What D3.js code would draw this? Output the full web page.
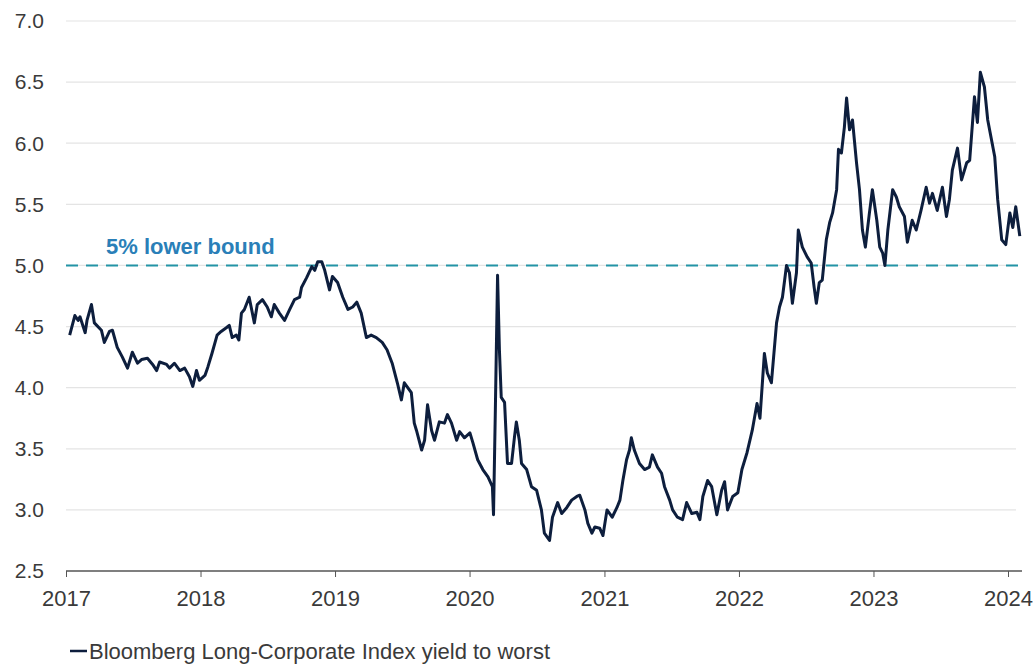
<!DOCTYPE html>
<html>
<head>
<meta charset="utf-8">
<script src="https://cdn.jsdelivr.net/npm/d3@7"></script>
<style>
    body { margin: 0; background: #ffffff; }
    svg text { font-family: "Liberation Sans", Arial, sans-serif; }
</style>
</head>
<body>
<div id="chart"></div>
<script>
// Bloomberg Long-Corporate Index yield to worst (%)
const dates = [
    "2017-01-11", "2017-01-25", "2017-02-03", "2017-02-08", "2017-02-22", "2017-02-27", "2017-03-11", "2017-03-19",
    "2017-04-07", "2017-04-15", "2017-04-29", "2017-05-07", "2017-05-20", "2017-06-03", "2017-06-17", "2017-06-30",
    "2017-07-14", "2017-07-25", "2017-08-10", "2017-08-24", "2017-09-04", "2017-09-12", "2017-10-01", "2017-10-09",
    "2017-10-22", "2017-11-06", "2017-11-19", "2017-12-02", "2017-12-11", "2017-12-21", "2017-12-29",
    "2018-01-13", "2018-01-21", "2018-02-01", "2018-02-15", "2018-02-26", "2018-03-12", "2018-03-20", "2018-03-28",
    "2018-04-08", "2018-04-15", "2018-04-22", "2018-04-30", "2018-05-13", "2018-05-27", "2018-06-04", "2018-06-18",
    "2018-07-01", "2018-07-12", "2018-07-20", "2018-08-03", "2018-08-17", "2018-08-31", "2018-09-13", "2018-09-27",
    "2018-10-02", "2018-10-16", "2018-10-30", "2018-11-07", "2018-11-15", "2018-11-26", "2018-12-04", "2018-12-17",
    "2018-12-25",
    "2019-01-08", "2019-01-22", "2019-02-05", "2019-02-18", "2019-03-01", "2019-03-13", "2019-03-27", "2019-04-09",
    "2019-04-23", "2019-05-09", "2019-05-22", "2019-06-05", "2019-06-19", "2019-06-30", "2019-07-08", "2019-07-27",
    "2019-08-04", "2019-08-10", "2019-08-24", "2019-09-01", "2019-09-09", "2019-09-20", "2019-09-28", "2019-10-11",
    "2019-10-25", "2019-11-02", "2019-11-13", "2019-11-27", "2019-12-05", "2019-12-18",
    "2020-01-02", "2020-01-10", "2020-01-23", "2020-02-06", "2020-02-20", "2020-03-03", "2020-03-06", "2020-03-11",
    "2020-03-17", "2020-03-22", "2020-03-27", "2020-04-05", "2020-04-13", "2020-04-24", "2020-05-02", "2020-05-07",
    "2020-05-15", "2020-05-21", "2020-06-04", "2020-06-17", "2020-07-01", "2020-07-14", "2020-07-22", "2020-08-05",
    "2020-08-13", "2020-08-27", "2020-09-07", "2020-09-21", "2020-10-04", "2020-10-18", "2020-10-26", "2020-11-09",
    "2020-11-17", "2020-11-28", "2020-12-06", "2020-12-19", "2020-12-28",
    "2021-01-08", "2021-01-22", "2021-02-04", "2021-02-12", "2021-02-20", "2021-03-02", "2021-03-10", "2021-03-15",
    "2021-03-23", "2021-04-06", "2021-04-20", "2021-05-03", "2021-05-11", "2021-05-25", "2021-06-05", "2021-06-13",
    "2021-06-27", "2021-07-05", "2021-07-18", "2021-08-01", "2021-08-12", "2021-08-26", "2021-09-09", "2021-09-17",
    "2021-09-25", "2021-10-08", "2021-10-19", "2021-11-02", "2021-11-15", "2021-11-23", "2021-12-01", "2021-12-15",
    "2021-12-29",
    "2022-01-09", "2022-01-23", "2022-02-06", "2022-02-19", "2022-02-27", "2022-03-11", "2022-03-19", "2022-03-30",
    "2022-04-13", "2022-04-21", "2022-04-29", "2022-05-10", "2022-05-18", "2022-05-26", "2022-06-06", "2022-06-11",
    "2022-06-22", "2022-07-05", "2022-07-16", "2022-07-24", "2022-07-30", "2022-08-07", "2022-08-15", "2022-08-26",
    "2022-09-04", "2022-09-12", "2022-09-23", "2022-09-28", "2022-10-06", "2022-10-14", "2022-10-20", "2022-10-28",
    "2022-11-05", "2022-11-16", "2022-11-24", "2022-12-02", "2022-12-10", "2022-12-21", "2022-12-29",
    "2023-01-10", "2023-01-18", "2023-01-26", "2023-02-01", "2023-02-09", "2023-02-22", "2023-03-04", "2023-03-12",
    "2023-03-26", "2023-04-03", "2023-04-16", "2023-04-27", "2023-05-10", "2023-05-24", "2023-06-02", "2023-06-10",
    "2023-06-23", "2023-07-07", "2023-07-18", "2023-07-26", "2023-08-03", "2023-08-17", "2023-08-28", "2023-09-11",
    "2023-09-19", "2023-10-02", "2023-10-10", "2023-10-18", "2023-10-29", "2023-11-07", "2023-11-26", "2023-12-04",
    "2023-12-15", "2023-12-26",
    "2024-01-06", "2024-01-14", "2024-01-22", "2024-02-02"
];

const yields = [
    4.43, 4.59, 4.55, 4.58, 4.45, 4.55, 4.68, 4.53,
    4.47, 4.37, 4.46, 4.47, 4.33, 4.25, 4.16, 4.29,
    4.20, 4.23, 4.24, 4.19, 4.14, 4.21, 4.19, 4.16,
    4.20, 4.14, 4.16, 4.09, 4.01, 4.14, 4.06,
    4.10, 4.17, 4.28, 4.43, 4.46, 4.49, 4.51, 4.41,
    4.43, 4.39, 4.61, 4.64, 4.74, 4.53, 4.68, 4.72,
    4.66, 4.58, 4.68, 4.61, 4.55, 4.64, 4.72, 4.74,
    4.82, 4.90, 4.99, 4.96, 5.03, 5.03, 4.96, 4.80,
    4.91,
    4.86, 4.74, 4.64, 4.66, 4.70, 4.61, 4.41, 4.43,
    4.41, 4.37, 4.31, 4.20, 4.04, 3.90, 4.04, 3.96,
    3.71, 3.65, 3.49, 3.57, 3.86, 3.65, 3.57, 3.72,
    3.71, 3.78, 3.71, 3.57, 3.64, 3.59,
    3.63, 3.55, 3.41, 3.33, 3.27, 3.19, 2.96, 3.82,
    4.92, 4.31, 3.92, 3.88, 3.38, 3.38, 3.60, 3.72,
    3.57, 3.38, 3.33, 3.19, 3.16, 3.00, 2.81, 2.75,
    2.94, 3.06, 2.97, 3.02, 3.08, 3.11, 3.12, 3.00,
    2.89, 2.81, 2.86, 2.85, 2.79,
    3.00, 2.94, 3.02, 3.08, 3.24, 3.41, 3.49, 3.59,
    3.49, 3.38, 3.33, 3.35, 3.45, 3.35, 3.30, 3.19,
    3.08, 3.00, 2.94, 2.92, 3.06, 2.97, 2.98, 2.92,
    3.11, 3.24, 3.19, 2.96, 3.16, 3.23, 3.00, 3.11,
    3.14,
    3.33, 3.47, 3.65, 3.87, 3.75, 4.28, 4.12, 4.04,
    4.53, 4.66, 4.74, 5.00, 4.94, 4.69, 4.94, 5.29,
    5.15, 5.07, 5.02, 4.82, 4.69, 4.86, 4.88, 5.21,
    5.35, 5.43, 5.62, 5.95, 5.92, 6.13, 6.37, 6.11,
    6.19, 5.84, 5.62, 5.29, 5.15, 5.43, 5.62,
    5.37, 5.15, 5.10, 5.00, 5.29, 5.62, 5.56, 5.48,
    5.40, 5.19, 5.37, 5.29, 5.45, 5.64, 5.51, 5.59,
    5.45, 5.64, 5.40, 5.54, 5.78, 5.96, 5.70, 5.84,
    5.86, 6.38, 6.17, 6.58, 6.46, 6.19, 5.89, 5.54,
    5.21, 5.17,
    5.43, 5.31, 5.48, 5.24
];

const yTicks = [2.5, 3.0, 3.5, 4.0, 4.5, 5.0, 5.5, 6.0, 6.5, 7.0];
const xTickYears = [2017, 2018, 2019, 2020, 2021, 2022, 2023, 2024];
const lowerBound = 5.0;
const lowerBoundLabel = "5% lower bound";
const legendLabel = "Bloomberg Long-Corporate Index yield to worst";

const width = 1034, height = 664;
const margin = {top: 21, right: 12, bottom: 93, left: 66};

const parse = d3.timeParse("%Y-%m-%d");
const series = dates.map((d, i) => ({date: parse(d), value: yields[i]}));

const svg = d3.select("#chart").append("svg")
    .attr("width", width)
    .attr("height", height);

const x = d3.scaleTime()
    .domain([new Date(2017, 0, 1), new Date(2024, 0, 1)])
    .range([margin.left, 1008]);

const y = d3.scaleLinear()
    .domain([2.5, 7.0])
    .range([height - margin.bottom, margin.top]);

const plotRight = width - margin.right;

// gridlines
svg.append("g")
    .selectAll("line")
    .data(yTicks.filter(t => t > 2.5))
    .join("line")
    .attr("x1", margin.left)
    .attr("x2", plotRight - 6)
    .attr("y1", d => y(d))
    .attr("y2", d => y(d))
    .attr("stroke", "#e4e4e4")
    .attr("stroke-width", 1.2);

// y labels (no axis line)
svg.append("g")
    .selectAll("text")
    .data(yTicks)
    .join("text")
    .attr("x", 44)
    .attr("y", d => y(d))
    .attr("dy", "0.35em")
    .attr("text-anchor", "end")
    .attr("font-size", 21)
    .attr("fill", "#3a3a3a")
    .text(d => d.toFixed(1));

// x axis
const xAxis = d3.axisBottom(x)
    .tickValues(xTickYears.map(yr => new Date(yr, 0, 1)))
    .tickFormat(d3.timeFormat("%Y"))
    .tickSize(6)
    .tickPadding(13);

const gx = svg.append("g")
    .attr("transform", `translate(0, ${y(2.5)})`)
    .call(xAxis);
gx.select(".domain")
    .attr("d", `M${margin.left},0H${plotRight}`)
    .attr("stroke", "#555")
    .attr("stroke-width", 1.5);
gx.selectAll(".tick line").attr("stroke", "#555");
gx.selectAll(".tick text")
    .attr("font-size", 22)
    .attr("fill", "#3a3a3a");

// 5% lower bound
svg.append("line")
    .attr("x1", margin.left)
    .attr("x2", plotRight)
    .attr("y1", y(lowerBound))
    .attr("y2", y(lowerBound))
    .attr("stroke", "#2394a6")
    .attr("stroke-width", 2)
    .attr("stroke-dasharray", "12,8");

svg.append("text")
    .attr("x", 106)
    .attr("y", y(lowerBound) - 11)
    .attr("font-size", 22)
    .attr("font-weight", "bold")
    .attr("fill", "#2a7fb8")
    .text(lowerBoundLabel);

// yield line
const line = d3.line()
    .x(d => x(d.date))
    .y(d => y(d.value));

svg.append("path")
    .datum(series)
    .attr("fill", "none")
    .attr("stroke", "#0d1e3d")
    .attr("stroke-width", 3)
    .attr("stroke-linejoin", "round")
    .attr("d", line);

// legend
const legend = svg.append("g").attr("transform", "translate(70, 651)");
legend.append("line")
    .attr("x1", 0).attr("x2", 17)
    .attr("y1", 0).attr("y2", 0)
    .attr("stroke", "#0d1e3d")
    .attr("stroke-width", 2.5);
legend.append("text")
    .attr("x", 19)
    .attr("dy", "0.35em")
    .attr("font-size", 22)
    .attr("fill", "#3a3a3a")
    .text(legendLabel);
</script>
</body>
</html>
